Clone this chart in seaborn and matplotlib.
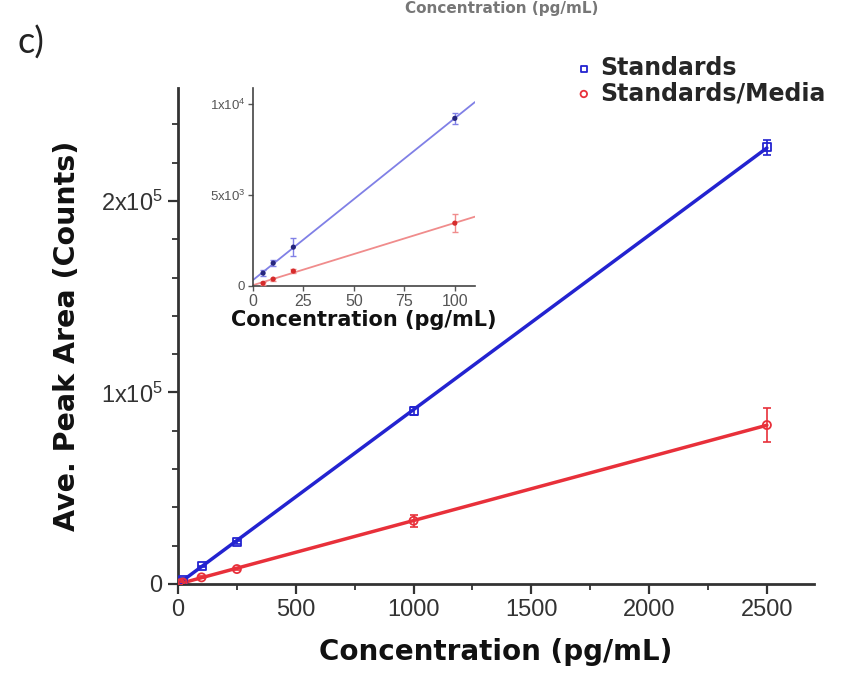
import numpy as np
import pandas as pd
import matplotlib
matplotlib.use("Agg")
import matplotlib.pyplot as plt
import seaborn as sns
from matplotlib.ticker import MultipleLocator, FixedLocator, FixedFormatter

# ---------------- data ----------------
conc = [5, 10, 20, 100, 250, 1000, 2500]
standards = [710, 1260, 2140, 9230, 21800, 90500, 228000]
standards_err = [150, 150, 500, 300, 800, 2000, 4000]
media = [150, 380, 820, 3460, 7800, 33000, 83000]
media_err = [80, 80, 100, 500, 600, 3000, 9000]
series_names = ["Standards", "Standards/Media"]

main_xticks = [0, 500, 1000, 1500, 2000, 2500]
main_yticks = [0, 100000, 200000]
main_ytick_labels = ["0", "1x10$^{5}$", "2x10$^{5}$"]
inset_xticks = [0, 25, 50, 75, 100]
inset_yticks = [0, 5000, 10000]
inset_ytick_labels = ["0", "5x10$^{3}$", "1x10$^{4}$"]
inset_max_conc = 100

df = pd.DataFrame({
    "conc": conc * 2,
    "area": standards + media,
    "err": standards_err + media_err,
    "series": [series_names[0]] * len(conc) + [series_names[1]] * len(conc),
})

# ---------------- style ----------------
sns.set_style("ticks")
plt.rcParams["font.family"] = ["Liberation Sans", "DejaVu Sans"]
plt.rcParams["mathtext.fontset"] = "custom"
plt.rcParams["mathtext.rm"] = "Liberation Sans"
plt.rcParams["mathtext.it"] = "Liberation Sans"

main_colors = {"Standards": "#2323d0", "Standards/Media": "#e8303a"}
inset_line_colors = {"Standards": "#8080e6", "Standards/Media": "#f08c8c"}
inset_pt_colors = {"Standards": "#26267e", "Standards/Media": "#d62b2b"}
markers = {"Standards": "s", "Standards/Media": "o"}
axis_col = "#333333"

fig = plt.figure(figsize=(8.53, 6.84), dpi=100)
W, H = 853, 684

# ---------------- main axes ----------------
ax = fig.add_axes([178 / W, 1 - 584 / H, (814 - 178) / W, (584 - 88) / H])
ax.set_xlim(0, 2700)
ax.set_ylim(0, 259000)

for name in series_names:
    sub = df[df["series"] == name]
    c = main_colors[name]
    sns.regplot(data=sub, x="conc", y="area", scatter=False, ci=None,
                truncate=True, color=c, line_kws=dict(lw=2.5), ax=ax)
    ax.errorbar(sub["conc"], sub["area"], yerr=sub["err"], fmt="none",
                ecolor=c, elinewidth=1.2, capsize=3, capthick=1.2, zorder=3)
    sns.scatterplot(data=sub, x="conc", y="area", marker=markers[name], s=34,
                    facecolor="none", edgecolor=c, linewidth=1.3, ax=ax,
                    label=name, zorder=4)

ax.xaxis.set_major_locator(FixedLocator(main_xticks))
ax.xaxis.set_minor_locator(MultipleLocator(250))
ax.yaxis.set_major_locator(FixedLocator(main_yticks))
ax.yaxis.set_major_formatter(FixedFormatter(main_ytick_labels))
ax.yaxis.set_minor_locator(MultipleLocator(20000))
ax.tick_params(which="major", direction="out", length=7, width=1.6,
               labelsize=17, colors=axis_col, pad=4)
ax.tick_params(which="minor", direction="out", length=4, width=1.3,
               colors=axis_col)
for s in ["top", "right"]:
    ax.spines[s].set_visible(False)
for s in ["left", "bottom"]:
    ax.spines[s].set_linewidth(2)
    ax.spines[s].set_color(axis_col)

ax.set_xlabel("Concentration (pg/mL)", fontsize=20, fontweight="bold",
              family="DejaVu Sans", color="#111111", labelpad=12)
ax.set_ylabel("Ave. Peak Area (Counts)", fontsize=20.5, fontweight="bold",
              family="DejaVu Sans", color="#111111", labelpad=14)

leg = ax.legend(loc="upper left", bbox_to_anchor=(572 / W, 1 - 56 / H),
                bbox_transform=fig.transFigure, frameon=False,
                prop=dict(weight="bold", size=17, family="DejaVu Sans"),
                handletextpad=0.2, labelspacing=0.05, handlelength=1.0,
                borderpad=0, borderaxespad=0, markerscale=0.8)

# ---------------- inset ----------------
axin = fig.add_axes([253 / W, 1 - 286 / H, (475 - 253) / W, (286 - 88) / H])
axin.set_xlim(0, 110)
axin.set_ylim(0, 10900)
low = df[df["conc"] <= inset_max_conc]
for name in series_names:
    sub = low[low["series"] == name]
    sns.regplot(data=sub, x="conc", y="area", scatter=False, ci=None,
                truncate=False, color=inset_line_colors[name],
                line_kws=dict(lw=1.3), ax=axin)
    axin.errorbar(sub["conc"], sub["area"], yerr=sub["err"], fmt="none",
                  ecolor=inset_line_colors[name], elinewidth=1, capsize=2,
                  zorder=3)
    sns.scatterplot(data=sub, x="conc", y="area", marker="o", s=14,
                    color=inset_pt_colors[name], edgecolor="none", ax=axin,
                    legend=False, zorder=4)
axin.set_xlim(0, 110)
axin.set_ylim(0, 10900)
axin.xaxis.set_major_locator(FixedLocator(inset_xticks))
axin.yaxis.set_major_locator(FixedLocator(inset_yticks))
axin.yaxis.set_major_formatter(FixedFormatter(inset_ytick_labels))
axin.tick_params(axis="x", direction="out", length=3.5, width=1,
                 labelsize=11.5, colors="#555555", pad=2)
axin.tick_params(axis="y", direction="out", length=3.5, width=1,
                 labelsize=9.5, colors="#555555", pad=2)
for s in ["top", "right"]:
    axin.spines[s].set_visible(False)
for s in ["left", "bottom"]:
    axin.spines[s].set_linewidth(1.2)
    axin.spines[s].set_color("#444444")
axin.set_xlabel("Concentration (pg/mL)", fontsize=15, fontweight="bold",
                family="DejaVu Sans", color="#111111", labelpad=1)
axin.set_ylabel("")

# ---------------- panel texts ----------------
fig.text(18 / W, 1 - 43 / H, "c)", fontsize=26, va="center", ha="left",
         family="Lato", color="#222222")
fig.text(502 / W, 1 - 1 / H, "Concentration (pg/mL)", fontsize=11,
         fontweight="bold", family="DejaVu Sans", color="#777777",
         ha="center", va="top")

fig.savefig("out.png", dpi=100)
